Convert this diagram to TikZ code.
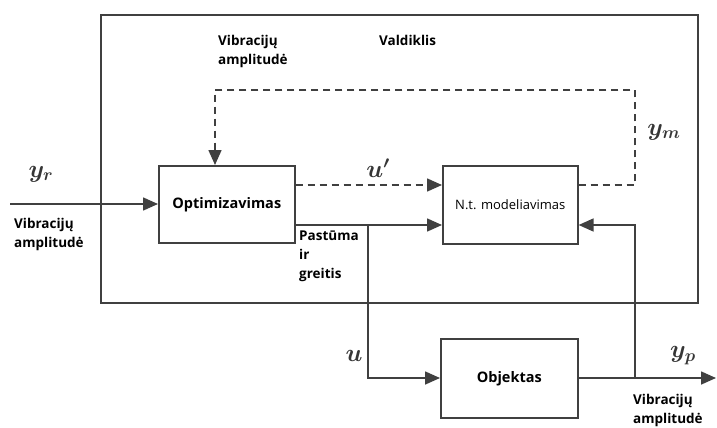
\documentclass[tikz,border=0pt]{standalone}
\usepackage{fontspec}
\setmainfont{Open Sans}
\usetikzlibrary{arrows.meta}
\definecolor{ln}{HTML}{404040}
\tikzset{
  blk/.style={draw=ln, line width=1.6pt, fill=white, inner sep=0pt},
  wire/.style={draw=ln, line width=1.6pt},
  arr/.style={wire, -{Triangle[length=15pt,width=13pt]}},
  dsh/.style={draw=ln, line width=1.6pt, dash pattern=on 7pt off 5pt},
  darr/.style={dsh, -{Triangle[length=15pt,width=13pt]}},
  lbl/.style={font=\bfseries\fontsize{13.5}{19}\selectfont, align=left, inner sep=0pt},
  sym/.style={text=ln!85!black, font=\boldmath\fontsize{24}{24}\selectfont, inner sep=0pt}
}
\begin{document}
\begin{tikzpicture}[x=1pt,y=-1pt]
\useasboundingbox (0,0) rectangle (717,428);
\fill[white] (0,0) rectangle (717,428);
% outer box
\node[blk, minimum width=597pt, minimum height=288pt, anchor=north west] (ctrl) at (100,14) {};
% blocks
\node[blk, minimum width=136pt, minimum height=77pt, anchor=north west, font=\bfseries\fontsize{14.5}{16}\selectfont] (opt) at (158,165) {Optimizavimas};
\node[blk, minimum width=135pt, minimum height=78pt, anchor=north west, font=\fontsize{13}{15}\selectfont] (nt) at (442,165) {N.t. modeliavimas};
\node[blk, minimum width=137pt, minimum height=79pt, anchor=north west, font=\bfseries\fontsize{14.5}{16}\selectfont] (obj) at (440,338) {Objektas};
% coordinates
\coordinate (in) at (10,204);
\coordinate (br1) at (368,225);
\coordinate (br1d) at (368,378);
\coordinate (br2) at (635,378);
\coordinate (br2u) at (635,225);
\coordinate (out) at (716,378);
\coordinate (fbR) at (635,185);
\coordinate (fbRU) at (635,90);
\coordinate (fbL) at (215,90);
% input
\draw[arr] (in) -- (opt.west |- in);
% u' dashed
\draw[darr] (opt.east |- 0,185) -- (nt.west |- 0,185);
% feedback dashed
\draw[darr] (nt.east |- fbR) -- (fbR) -- (fbRU) -- (fbL) -- (fbL |- opt.north);
% solid to nt
\draw[arr] (opt.east |- br1) -- (nt.west |- br1);
\draw[arr] (br1) -- (br1d) -- (obj.west |- br1d);
% output
\draw[arr] (obj.east |- br2) -- (out);
\draw[arr] (br2) -- (br2u) -- (nt.east |- br2u);
% labels
\node[sym] (yr) at (41,174) {$y_r$};
\node[sym] (up) at (378,168) {$u'$};
\node[sym] (ym) at (664,132) {$y_m$};
\node[sym] (u) at (354,356) {$u$};
\node[sym] (yp) at (683,356) {$y_{p}$};
\node[lbl, anchor=north west] (va1) at (14,218) {Vibracijų\\amplitudė};
\node[lbl, anchor=north west] (va2) at (218,35) {Vibracijų\\amplitudė};
\node[lbl, anchor=north west] (vald) at (379,35) {Valdiklis};
\node[lbl, anchor=north west] (pir) at (299,231) {Pastūma\\ir\\greitis};
\node[lbl, anchor=north west] (va3) at (633,394) {Vibracijų\\amplitudė};
\end{tikzpicture}
\end{document}
